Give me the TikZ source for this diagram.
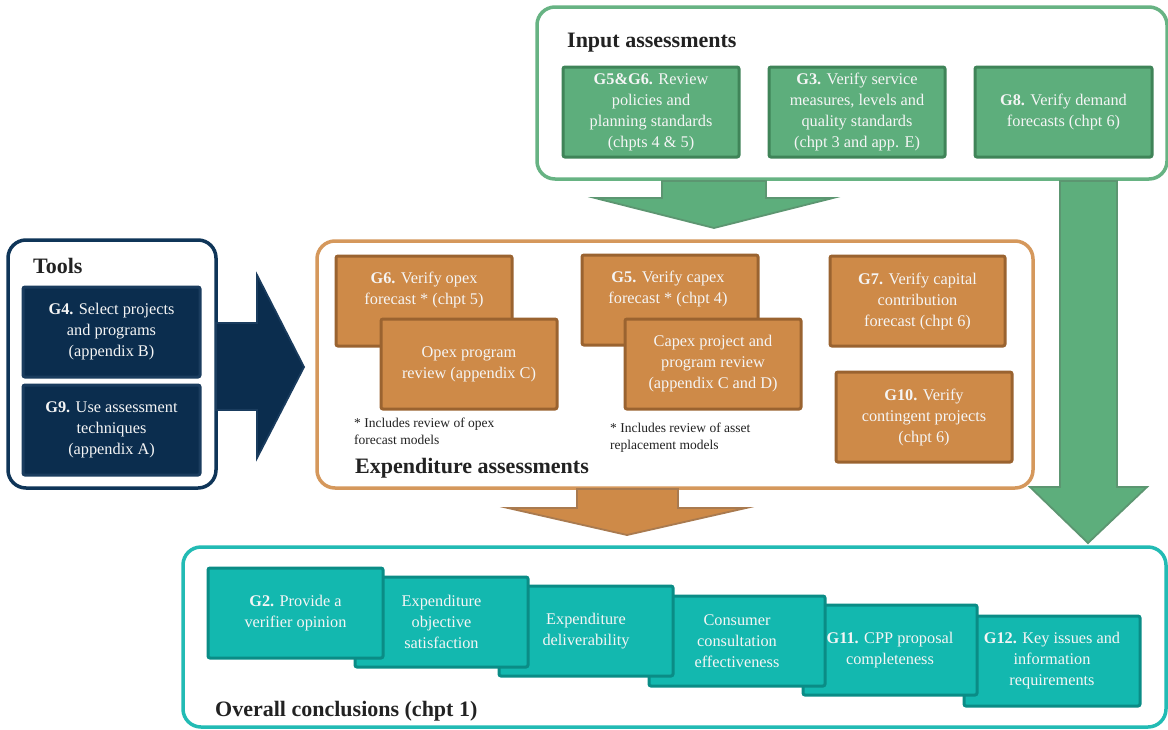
\documentclass[tikz,border=0pt]{standalone}
\usepackage{fontspec}
\setmainfont{Liberation Serif}
\definecolor{gfill}{HTML}{5DAE7C}
\definecolor{gline}{HTML}{3F8458}
\definecolor{gouter}{HTML}{67B383}
\definecolor{ofill}{HTML}{CE8A48}
\definecolor{oline}{HTML}{9A6330}
\definecolor{oouter}{HTML}{D5985C}
\definecolor{nfill}{HTML}{0B2D4E}
\definecolor{nline}{HTML}{1A3C5E}
\definecolor{nouter}{HTML}{0F3558}
\definecolor{tfill}{HTML}{13B8AF}
\definecolor{tline}{HTML}{0A8C86}
\definecolor{touter}{HTML}{22BBB4}
\definecolor{txt}{HTML}{222222}
\definecolor{boxtxt}{HTML}{F5F5F5}
\newcommand\mybox[7]{%
  \node[#1, minimum width={(#5-#3)*1pt}, minimum height={(#6-#4)*1pt}] (#2) at ({(#3+#5)/2},{(#4+#6)/2}) {#7};}
\begin{document}
\begin{tikzpicture}[x=1pt,y=-1pt,
  inbox/.style={rectangle, rounded corners=2pt, line width=3pt, align=center, text=boxtxt,
    font=\fontsize{16.3}{21}\selectfont, inner sep=0pt},
  gbox/.style={inbox, draw=gline, fill=gfill},
  obox/.style={inbox, draw=oline, fill=ofill},
  nbox/.style={inbox, draw=nline, fill=nfill},
  tbox/.style={inbox, draw=tline, fill=tfill},
  outer/.style={rectangle, rounded corners=18pt, line width=3.5pt, fill=white},
  title/.style={anchor=base west, text=txt, font=\fontsize{22}{24}\selectfont\bfseries, inner sep=0pt},
  note/.style={anchor=base west, text=txt, font=\fontsize{13.5}{15}\selectfont, inner sep=0pt},
  btext/.style={align=center, text=boxtxt, font=\fontsize{16.3}{21}\selectfont, inner sep=0pt},
  blockarrow/.style={line width=1.8pt, line join=miter}
]
\useasboundingbox (0,0) rectangle (1168,729);
\fill[white] (0,0) rectangle (1168,729);

% ---------- Input assessments ----------
\mybox{outer, draw=gouter}{inp}{537}{7}{1167}{179}{}
\node[title] (inpt) at (567,47) {Input assessments};
\mybox{gbox}{g56}{563}{67}{739}{157}{\textbf{G5\&G6.} Review\\policies and\\planning standards\\(chpts 4 \& 5)}
\mybox{gbox}{g3}{769}{67}{945}{157}{\textbf{G3.} Verify service\\measures, levels and\\quality standards\\(chpt 3 and app. E)}
\mybox{gbox}{g8}{975}{67}{1152}{157}{\textbf{G8.} Verify demand\\forecasts (chpt 6)}

% green arrows
\filldraw[blockarrow, fill=gfill, draw=gline!85]
  (662,181) -- (766,181) -- (766,198) -- (833,198) -- (714,228) -- (595,198) -- (662,198) -- cycle;
\filldraw[blockarrow, fill=gfill, draw=gline!85]
  (1060,181) -- (1117,181) -- (1117,487) -- (1147,487) -- (1088,543) -- (1030,487) -- (1060,487) -- cycle;

% ---------- Tools ----------
\mybox{outer, draw=nouter}{tools}{8}{240}{216}{488}{}
\node[title] (toolst) at (33,273) {Tools};
\mybox{nbox}{g4}{23}{287}{200}{377}{\textbf{G4.} Select projects\\and programs\\(appendix B)}
\mybox{nbox}{g9}{23}{385}{200}{475}{\textbf{G9.} Use assessment\\techniques\\(appendix A)}
\filldraw[blockarrow, fill=nfill, draw=nline]
  (216,323) -- (257,323) -- (257,275) -- (304,367) -- (257,458) -- (257,410) -- (216,410) -- cycle;

% ---------- Expenditure assessments ----------
\mybox{outer, draw=oouter}{exp}{317}{241}{1033}{488}{}
\node[title] (expt) at (355,473) {Expenditure assessments};
\mybox{obox}{g6}{336}{256}{512}{346}{}
\node[btext] (g6t) at (424,290) {\textbf{G6.} Verify opex\\forecast * (chpt 5)};
\mybox{obox}{opex}{381}{319}{557}{409}{Opex program\\review (appendix C)}
\node[note] (n1a) at (354,427) {* Includes review of opex};
\node[note] (n1b) at (354,444) {forecast models};
\mybox{obox}{g5}{582}{255}{758}{345}{}
\node[btext] (g5t) at (668,289) {\textbf{G5.} Verify capex\\forecast * (chpt 4)};
\mybox{obox}{capex}{625}{319}{801}{409}{Capex project and\\program review\\(appendix C and D)}
\node[note] (n2a) at (610,432) {* Includes review of asset};
\node[note] (n2b) at (610,449) {replacement models};
\mybox{obox}{g7}{830}{256}{1005}{346}{\textbf{G7.} Verify capital\\contribution\\forecast (chpt 6)}
\mybox{obox}{g10}{836}{372}{1012}{462}{\textbf{G10.} Verify\\contingent projects\\(chpt 6)}

% orange arrow
\filldraw[blockarrow, fill=ofill, draw=oline!85]
  (577,489) -- (678,489) -- (678,508) -- (746,508) -- (627,535) -- (508,508) -- (577,508) -- cycle;

% ---------- Overall conclusions ----------
\mybox{outer, draw=touter}{ovr}{183}{547}{1166}{727}{}
\node[title] (ovrt) at (215,716) {Overall conclusions (chpt 1)};
\mybox{tbox}{g12}{964}{616}{1140}{706}{\textbf{G12.} Key issues and\\information\\requirements}
\mybox{tbox}{g11}{803}{605}{977}{695}{\textbf{G11.} CPP proposal\\completeness}
\mybox{tbox}{cons}{649}{596}{825}{686}{Consumer\\consultation\\effectiveness}
\mybox{tbox}{deliv}{499}{586}{673}{676}{Expenditure\\deliverability}
\mybox{tbox}{obj}{355}{577}{528}{667}{Expenditure\\objective\\satisfaction}
\mybox{tbox}{g2}{208}{568}{383}{658}{\textbf{G2.} Provide a\\verifier opinion}
\end{tikzpicture}
\end{document}
